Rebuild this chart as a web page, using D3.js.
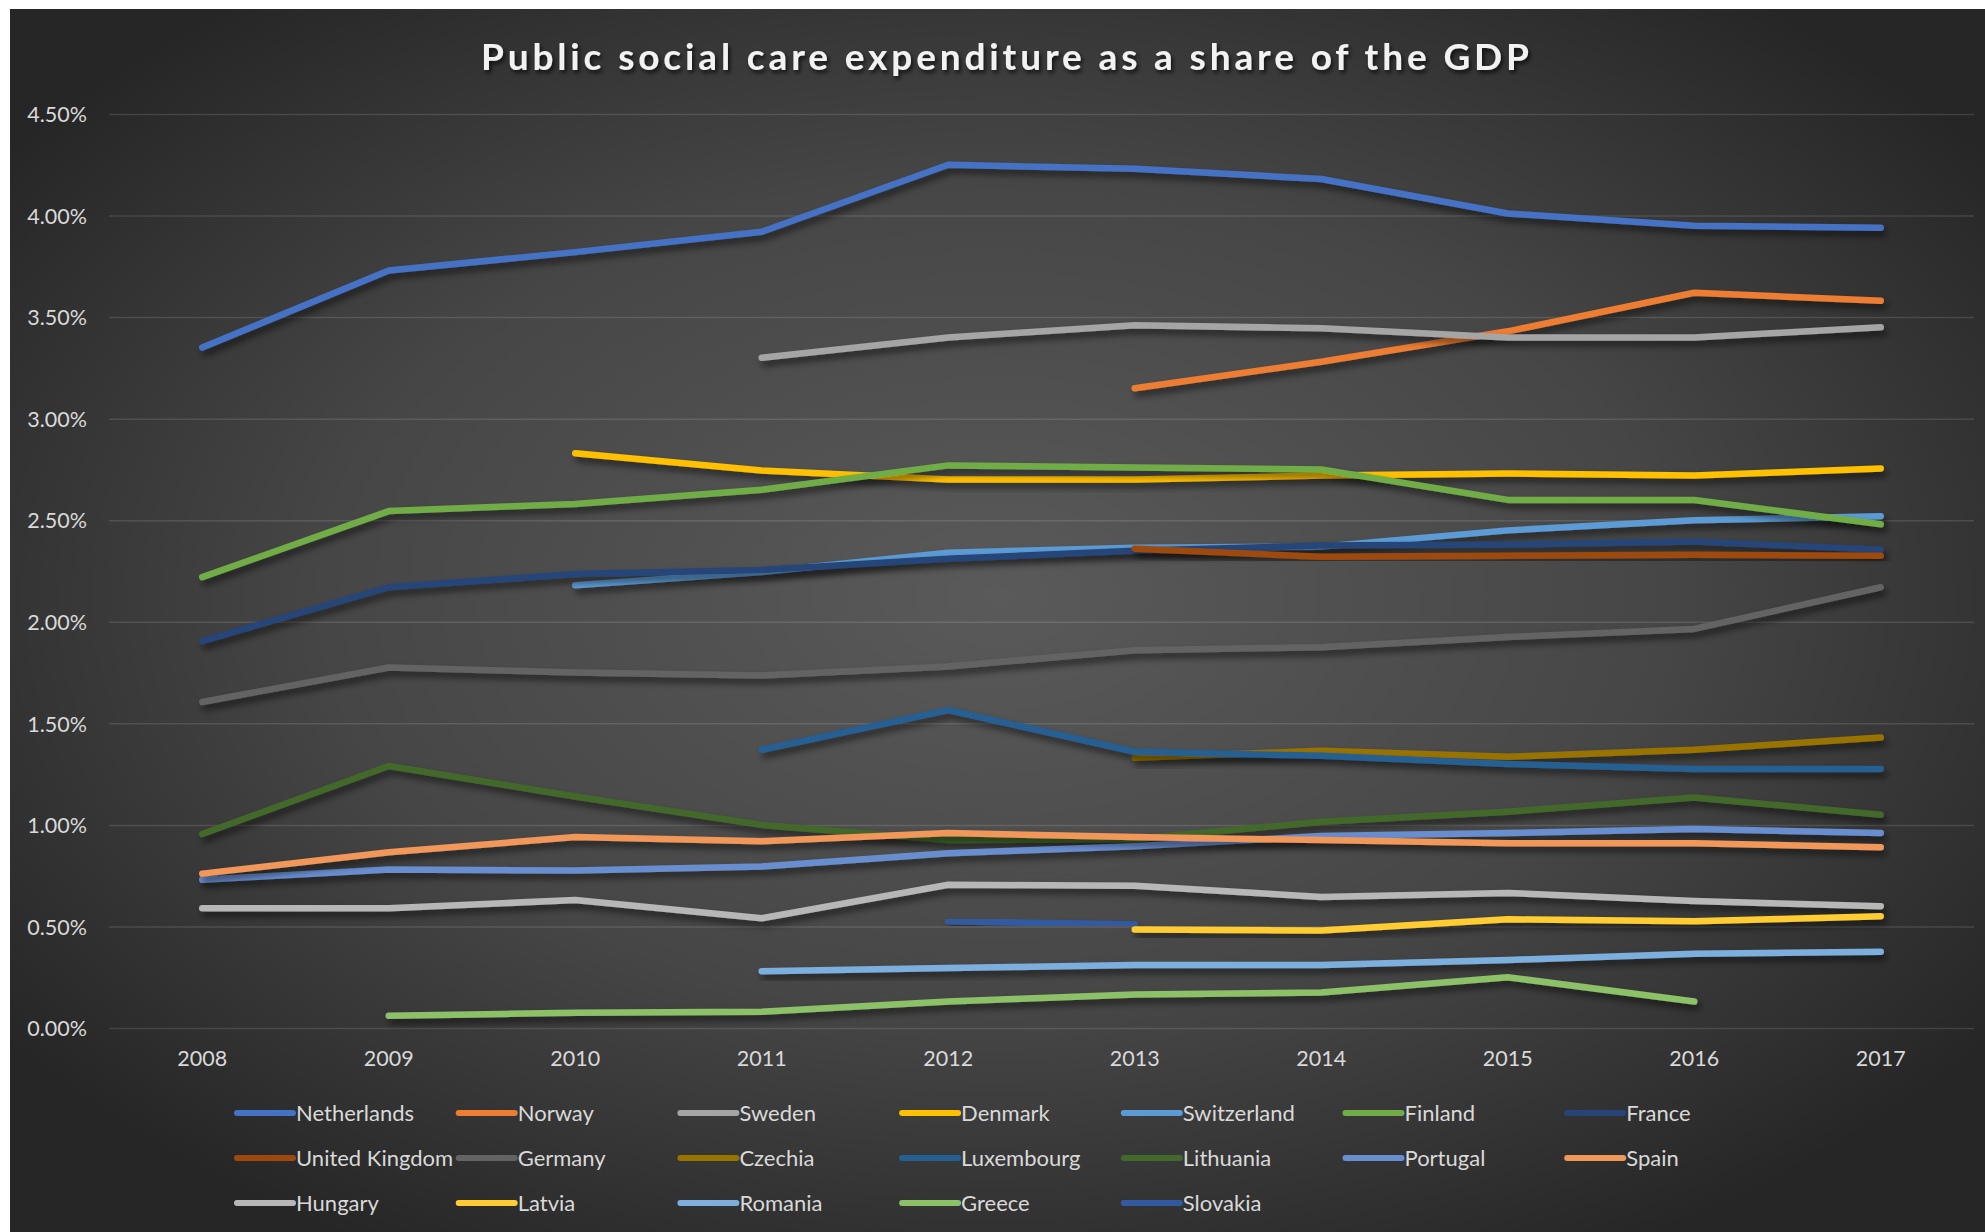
<!DOCTYPE html>
<html>
<head>
<meta charset="utf-8">
<script src="https://cdn.jsdelivr.net/npm/d3@7"></script>
<style>
  html, body { margin: 0; padding: 0; background: #ffffff; }
  svg { display: block; }
  text { font-family: Lato, "Noto Sans", sans-serif; }
</style>
</head>
<body>
<svg id="chart" width="1985" height="1232"></svg>
<script>
const title = "Public social care expenditure as a share of the GDP";
const years = ["2008","2009","2010","2011","2012","2013","2014","2015","2016","2017"];
const yTicks = [0, 0.5, 1, 1.5, 2, 2.5, 3, 3.5, 4, 4.5];

const countries = ["Netherlands","Norway","Sweden","Denmark","Switzerland","Finland","France",
  "United Kingdom","Germany","Czechia","Luxembourg","Lithuania","Portugal","Spain",
  "Hungary","Latvia","Romania","Greece","Slovakia"];

const colors = ["#4472C4","#ED7D31","#A5A5A5","#FFC000","#5B9BD5","#70AD47","#264478",
  "#9E480E","#636363","#997300","#255E91","#43682B","#698ED0","#F1975A",
  "#B7B7B7","#FFCD33","#7CAFDD","#8CC168","#335AA1"];

// values in percent of GDP, null = no data
const netherlands   = [3.35, 3.73, 3.82, 3.92, 4.25, 4.23, 4.18, 4.01, 3.95, 3.94];
const norway        = [null, null, null, null, null, 3.15, 3.28, 3.43, 3.62, 3.58];
const sweden        = [null, null, null, 3.30, 3.40, 3.46, 3.445, 3.40, 3.40, 3.45];
const denmark       = [null, null, 2.83, 2.745, 2.70, 2.70, 2.72, 2.73, 2.72, 2.755];
const switzerland   = [null, null, 2.18, 2.245, 2.34, 2.365, 2.37, 2.45, 2.50, 2.52];
const finland       = [2.22, 2.545, 2.58, 2.65, 2.77, 2.76, 2.75, 2.60, 2.60, 2.48];
const france        = [1.905, 2.17, 2.235, 2.255, 2.31, 2.35, 2.375, 2.38, 2.395, 2.355];
const unitedKingdom = [null, null, null, null, null, 2.36, 2.32, 2.325, 2.33, 2.325];
const germany       = [1.605, 1.775, 1.75, 1.735, 1.78, 1.86, 1.875, 1.925, 1.965, 2.17];
const czechia       = [null, null, null, null, null, 1.33, 1.365, 1.335, 1.37, 1.43];
const luxembourg    = [null, null, null, 1.37, 1.565, 1.36, 1.34, 1.30, 1.275, 1.275];
const lithuania     = [0.955, 1.29, 1.14, 1.0, 0.925, 0.93, 1.015, 1.065, 1.135, 1.05];
const portugal      = [0.73, 0.78, 0.775, 0.795, 0.86, 0.895, 0.945, 0.96, 0.98, 0.96];
const spain         = [0.76, 0.865, 0.94, 0.92, 0.96, 0.94, 0.925, 0.91, 0.91, 0.89];
const hungary       = [0.59, 0.59, 0.63, 0.54, 0.705, 0.70, 0.645, 0.665, 0.625, 0.60];
const latvia        = [null, null, null, null, null, 0.485, 0.48, 0.535, 0.525, 0.55];
const romania       = [null, null, null, 0.28, 0.295, 0.31, 0.31, 0.335, 0.365, 0.375];
const greece        = [null, 0.06, 0.075, 0.08, 0.13, 0.165, 0.175, 0.25, 0.13, null];
const slovakia      = [null, null, null, null, 0.525, 0.51, null, null, null, null];

const seriesValues = [netherlands, norway, sweden, denmark, switzerland, finland, france,
  unitedKingdom, germany, czechia, luxembourg, lithuania, portugal, spain,
  hungary, latvia, romania, greece, slovakia];

const series = countries.map((name, i) => ({
  name, color: colors[i],
  values: years.map((y, j) => ({ year: y, value: seriesValues[i][j] }))
}));

const svg = d3.select("#chart");
const W = 1985, H = 1232;
const defs = svg.append("defs");

const grad = defs.append("radialGradient").attr("id", "bg")
  .attr("cx", "50%").attr("cy", "48%").attr("r", "62%");
grad.append("stop").attr("offset", "0%").attr("stop-color", "#5a5a5a");
grad.append("stop").attr("offset", "55%").attr("stop-color", "#464646");
grad.append("stop").attr("offset", "100%").attr("stop-color", "#262626");

const shadow = defs.append("filter").attr("id", "shadow")
  .attr("x", "-5%").attr("y", "-50%").attr("width", "110%").attr("height", "200%");
shadow.append("feDropShadow").attr("dx", 3).attr("dy", 5).attr("stdDeviation", 3.5)
  .attr("flood-color", "#000").attr("flood-opacity", 0.55);

const tshadow = defs.append("filter").attr("id", "tshadow")
  .attr("x", "-5%").attr("y", "-50%").attr("width", "110%").attr("height", "200%");
tshadow.append("feDropShadow").attr("dx", 2).attr("dy", 3).attr("stdDeviation", 2)
  .attr("flood-color", "#000").attr("flood-opacity", 0.7);

svg.append("rect").attr("x", 10).attr("y", 9).attr("width", W - 10).attr("height", H - 9)
  .attr("fill", "url(#bg)");

const x = d3.scaleBand().domain(years).range([109, 1974]).padding(0);
const y = d3.scaleLinear().domain([0, 4.5]).range([1028, 114]);

// gridlines + y axis labels
const yAxis = d3.axisLeft(y).tickValues(yTicks)
  .tickSize(-(1974 - 109)).tickPadding(22)
  .tickFormat(d => d.toFixed(2) + "%");
const gy = svg.append("g").attr("transform", "translate(109,0)").call(yAxis);
gy.select(".domain").remove();
gy.selectAll(".tick line").attr("stroke", "#ffffff").attr("stroke-opacity", 0.12).attr("stroke-width", 1.5);
gy.selectAll(".tick text").attr("fill", "#d9d9d9").attr("font-size", 21.5)
  .attr("font-family", "Lato, sans-serif").attr("dy", "0.36em");

const xAxis = d3.axisBottom(x).tickSize(0).tickPadding(0);
const gx = svg.append("g").attr("transform", "translate(0,1028)").call(xAxis);
gx.select(".domain").remove();
gx.selectAll(".tick text").attr("fill", "#d9d9d9").attr("font-size", 21.5)
  .attr("font-family", "Lato, sans-serif").attr("dy", null).attr("y", 38);

// lines
const line = d3.line()
  .defined(d => d.value != null)
  .x(d => x(d.year) + x.bandwidth() / 2)
  .y(d => y(d.value));

svg.append("g").selectAll("path").data(series).join("path")
  .attr("d", d => line(d.values))
  .attr("fill", "none")
  .attr("stroke", d => d.color)
  .attr("stroke-width", 6.5)
  .attr("stroke-linecap", "round")
  .attr("stroke-linejoin", "round")
  .attr("filter", "url(#shadow)");

// title
svg.append("text")
  .attr("x", 1005).attr("y", 70)
  .attr("text-anchor", "middle")
  .attr("font-size", 37).attr("font-weight", 700)
  .attr("fill", "#f2f2f2")
  .attr("textLength", 1048).attr("lengthAdjust", "spacing")
  .attr("filter", "url(#tshadow)")
  .text(title);

// legend
const perRow = 7;
const legend = svg.append("g");
const items = legend.selectAll("g").data(series).join("g")
  .attr("transform", (d, i) => `translate(${237 + (i % perRow) * 221.7},${1113 + Math.floor(i / perRow) * 45})`);
items.append("line").attr("x1", 0).attr("x2", 56).attr("y1", 0).attr("y2", 0)
  .attr("stroke", d => d.color).attr("stroke-width", 6).attr("stroke-linecap", "round");
items.append("text").attr("x", 59).attr("y", 0).attr("dy", "0.36em")
  .attr("fill", "#d9d9d9").attr("font-size", 22)
  .text(d => d.name);
</script>
</body>
</html>
